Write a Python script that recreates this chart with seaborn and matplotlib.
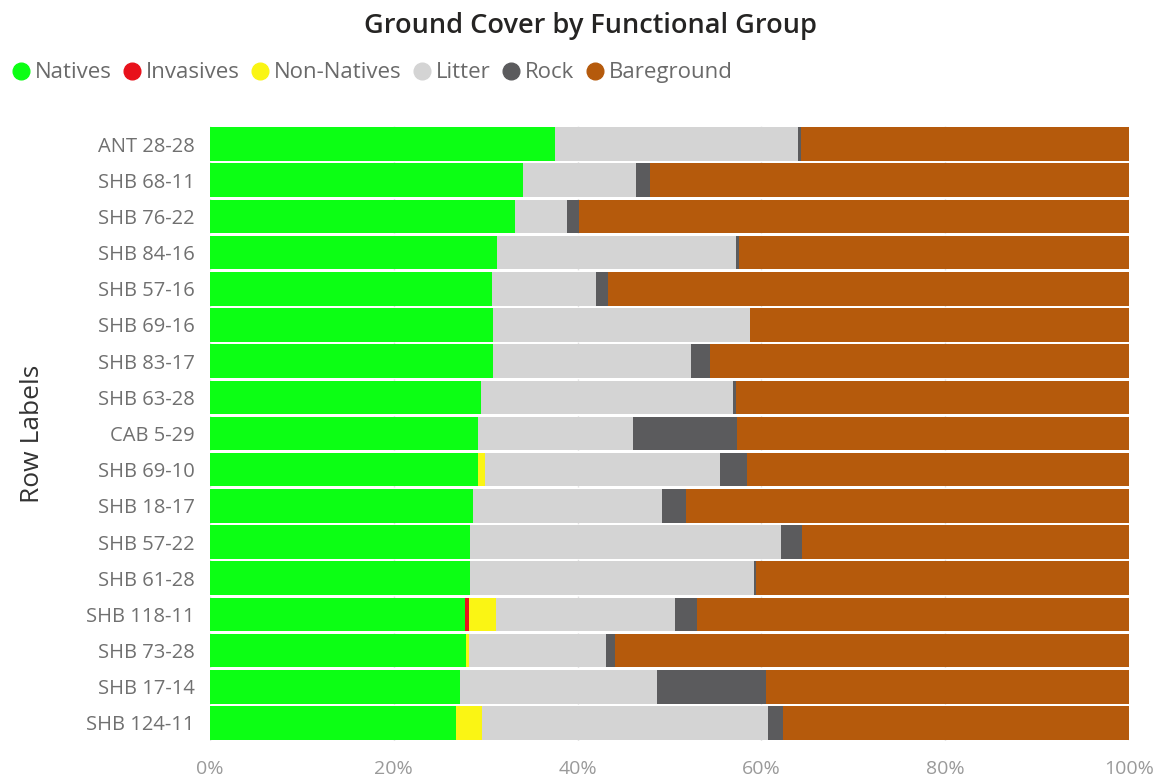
import numpy as np
import pandas as pd
import matplotlib
matplotlib.use("Agg")
import matplotlib.pyplot as plt
from matplotlib.lines import Line2D
import seaborn as sns

# Ground cover share (%) per site, top row first
sites = ["ANT 28-28", "SHB 68-11", "SHB 76-22", "SHB 84-16", "SHB 57-16",
         "SHB 69-16", "SHB 83-17", "SHB 63-28", "CAB 5-29", "SHB 69-10",
         "SHB 18-17", "SHB 57-22", "SHB 61-28", "SHB 118-11", "SHB 73-28",
         "SHB 17-14", "SHB 124-11"]
natives     = [37.5, 34.1, 33.2, 31.2, 30.7, 30.8, 30.8, 29.5, 29.2, 29.2,
               28.6, 28.3, 28.3, 27.8, 27.9, 27.2, 26.8]
invasives   = [0.0, 0.0, 0.0, 0.0, 0.0, 0.0, 0.0, 0.0, 0.0, 0.0,
               0.0, 0.0, 0.0, 0.4, 0.0, 0.0, 0.0]
non_natives = [0.0, 0.0, 0.0, 0.0, 0.0, 0.0, 0.0, 0.0, 0.0, 0.7,
               0.0, 0.0, 0.0, 2.9, 0.3, 0.0, 2.8]
litter      = [26.5, 12.3, 5.6, 26.0, 11.3, 28.0, 21.5, 27.4, 16.8, 25.6,
               20.6, 33.8, 30.9, 19.5, 14.9, 21.4, 31.1]
rock        = [0.3, 1.5, 1.3, 0.4, 1.3, 0.0, 2.1, 0.3, 11.3, 2.9,
               2.6, 2.3, 0.2, 2.4, 1.0, 11.9, 1.6]
bareground  = [35.7, 52.1, 59.9, 42.4, 56.7, 41.2, 45.6, 42.8, 42.7, 41.6,
               48.2, 35.6, 40.6, 47.0, 55.9, 39.5, 37.7]

groups = ["Natives", "Invasives", "Non-Natives", "Litter", "Rock", "Bareground"]
colors = {"Natives": "#0CFF14", "Invasives": "#E8111B", "Non-Natives": "#FAF514",
          "Litter": "#D4D4D4", "Rock": "#5B5B5D", "Bareground": "#B55A0C"}
x_ticks = [0, 20, 40, 60, 80, 100]
x_tick_labels = ["0%", "20%", "40%", "60%", "80%", "100%"]

df = pd.DataFrame({"Site": sites, "Natives": natives, "Invasives": invasives,
                   "Non-Natives": non_natives, "Litter": litter, "Rock": rock,
                   "Bareground": bareground})
cum = df[groups].cumsum(axis=1)

sns.set_theme(style="white")
plt.rcParams["font.family"] = ["Open Sans", "DejaVu Sans"]

fig = plt.figure(figsize=(11.58, 7.84), dpi=100)
ax = fig.add_axes([210 / 1158, 1 - 741 / 784, 919 / 1158, 615 / 784])

# Stacked bars: draw the running totals from the outermost group inwards
for g in reversed(groups):
    sns.barplot(x=cum[g], y=df["Site"], order=sites, color=colors[g],
                saturation=1, width=0.93, errorbar=None, orient="h",
                linewidth=0, ax=ax, zorder=2)

ax.set_xlim(0, 100)
ax.set_ylim(len(sites) - 0.5, -0.5)
ax.set_xticks(x_ticks)
ax.set_xticklabels(x_tick_labels)
ax.grid(axis="x", color="#E2E2E2", linestyle=":", linewidth=1, zorder=0)
ax.grid(axis="y", visible=False)
for s in ax.spines.values():
    s.set_visible(False)
ax.tick_params(axis="x", length=0, pad=14, labelsize=14, labelcolor="#9A9A9A")
ax.tick_params(axis="y", length=0, pad=11, labelsize=14.5, labelcolor="#707070")
ax.set_xlabel("")
ax.set_ylabel("Row Labels", fontsize=19, color="#333333")
ax.yaxis.set_label_coords(-0.18, 0.5)

fig.text(0.51, 0.967, "Ground Cover by Functional Group", ha="center", va="center",
         fontsize=19.5, fontweight="semibold", color="#252423")

handles = [Line2D([0], [0], marker="o", linestyle="none", markersize=12,
                  markerfacecolor=colors[g], markeredgecolor=colors[g]) for g in groups]
fig.legend(handles, groups, loc="center left", bbox_to_anchor=(0.001, 0.907),
           ncol=len(groups), frameon=False, handletextpad=0.12, columnspacing=0.42,
           handlelength=1.0, borderaxespad=0, prop={"size": 16},
           labelcolor="#6A6A6A")

fig.savefig("out.png", dpi=100, facecolor="white")
